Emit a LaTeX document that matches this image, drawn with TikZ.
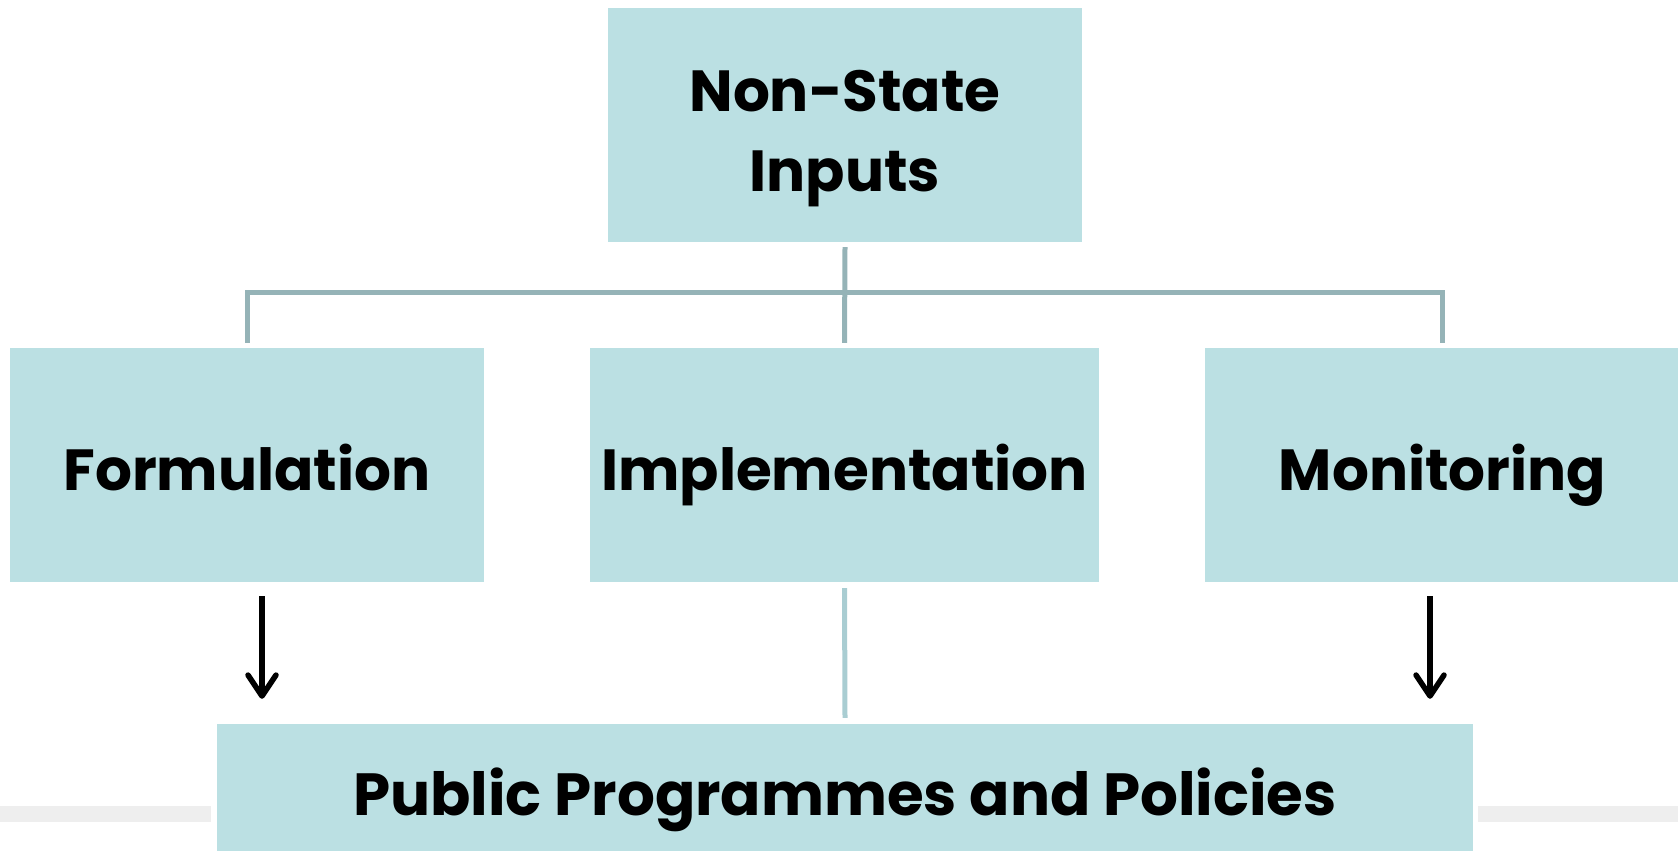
\documentclass[tikz,border=0pt]{standalone}
\usepackage{fontspec}
\setmainfont{Poppins}
\usetikzlibrary{arrows.meta,calc}
\definecolor{boxfill}{HTML}{BBE0E3}
\definecolor{connA}{HTML}{95B3B7}
\definecolor{connB}{HTML}{A9CDD2}
\definecolor{barg}{HTML}{EEEEEE}
\begin{document}
\begin{tikzpicture}[x=1pt,y=-1pt,
  box/.style={fill=boxfill,draw=none,inner sep=0pt,align=center,
    font=\fontsize{58}{80}\selectfont\bfseries,text=black},
  conn/.style={draw=connA,line width=5pt},
  conn2/.style={draw=connB,line width=5pt},
  arr/.style={draw=black,line width=5.5pt,
    -{Straight Barb[length=21pt,width=28pt,line width=5.5pt,round]}}]
\useasboundingbox (0,0) rectangle (1678,851);
\fill[barg] (0,806) rectangle (211,822);
\fill[barg] (1478,806) rectangle (1678,822);
\node[box,minimum width=474pt,minimum height=234pt,text height=140pt,text depth=8pt] (top) at (845,125) {Non-State\\Inputs};
\node[box,minimum width=474pt,minimum height=234pt,text height=58pt,text depth=8pt] (form) at (247,465) {Formulation};
\node[box,minimum width=509pt,minimum height=234pt,text height=58pt,text depth=8pt] (impl) at (844.5,465) {Implementation};
\node[box,minimum width=475pt,minimum height=234pt,text height=58pt,text depth=8pt] (mon) at (1442.5,465) {Monitoring};
\node[box,minimum width=1256pt,minimum height=150pt,text height=50pt,text depth=18pt,font=\fontsize{59.5}{80}\selectfont\bfseries] (bot) at (845,799) {Public Programmes and Policies};
\draw[conn] ([yshift=-5pt]top.south) -- ([yshift=5pt]impl.north);
\draw[conn] ([yshift=5pt]form.north) -- ++(0,-50) -| ([yshift=5pt]mon.north);
\draw[conn2] ([yshift=-6pt]impl.south) -- ([yshift=6pt]bot.north);
\draw[arr] ([xshift=15pt,yshift=-14pt]form.south) -- ($(form.south |- bot.north)+(15,-25)$);
\draw[arr] ([xshift=-12.5pt,yshift=-14pt]mon.south) -- ($(mon.south |- bot.north)+(-12.5,-25)$);
\end{tikzpicture}
\end{document}
